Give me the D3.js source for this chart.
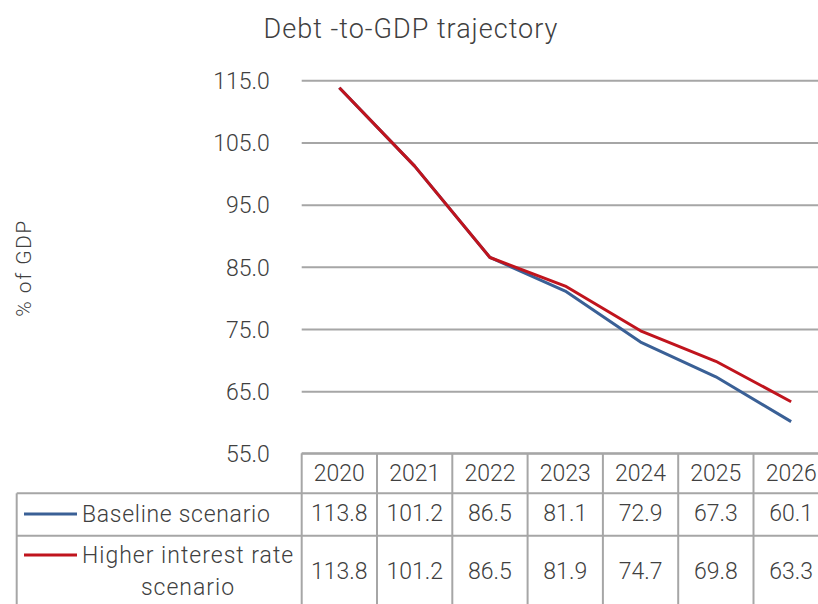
<!DOCTYPE html>
<html>
<head>
<meta charset="utf-8">
<script src="https://cdn.jsdelivr.net/npm/d3@7"></script>
<style>
  html, body { margin: 0; padding: 0; background: #fff; }
  svg { display: block; }
  text { font-family: Roboto, "Noto Sans", sans-serif; font-weight: 300; fill: #404040; }
</style>
</head>
<body>
<svg id="chart" width="818" height="604"></svg>
<script>
const title = "Debt -to-GDP trajectory";
const yLabel = "% of GDP";
const years = ["2020", "2021", "2022", "2023", "2024", "2025", "2026"];
const baseline = [113.8, 101.2, 86.5, 81.1, 72.9, 67.3, 60.1];
const higherRate = [113.8, 101.2, 86.5, 81.9, 74.7, 69.8, 63.3];
const yTicks = [55, 65, 75, 85, 95, 105, 115];
const seriesNames = [["Baseline scenario"], ["Higher interest rate", "scenario"]];
const seriesColors = ["#3a6096", "#c0141d"];

const svg = d3.select("#chart");
const plotLeft = 301.7, colW = 75.3;
const plotRight = plotLeft + colW * years.length;
const yTop = 80.3, yBottom = 453.3;

const x = d3.scaleBand().domain(years).range([plotLeft, plotRight]);
const y = d3.scaleLinear().domain([55, 115]).range([yBottom, yTop]);

// title
svg.append("text").attr("x", 411).attr("y", 38).attr("text-anchor", "middle")
  .style("font-size", "27px").style("letter-spacing", "1px").text(title);

// y label
svg.append("text").attr("transform", "translate(31,268) rotate(-90)")
  .attr("text-anchor", "middle").style("font-size", "21px").style("letter-spacing", "1.5px").text(yLabel);

// y axis + gridlines
const yAxis = d3.axisLeft(y).tickValues(yTicks).tickFormat(d3.format(".1f"))
  .tickSize(-(plotRight - plotLeft)).tickPadding(32);
const gy = svg.append("g").attr("transform", `translate(${plotLeft},0)`).call(yAxis);
gy.select(".domain").remove();
gy.selectAll(".tick line").attr("stroke", "#a6a6a6").attr("stroke-width", 2);
gy.selectAll(".tick text").attr("fill", "#404040").style("font-size", "23px")
  .style("font-family", "Roboto, sans-serif").style("font-weight", 300).attr("dy", "0.36em");

// lines
const line = d3.line().x((d, i) => x(years[i]) + x.bandwidth() / 2).y(d => y(d));
[baseline, higherRate].forEach((s, k) => {
  svg.append("path").datum(s).attr("d", line).attr("fill", "none")
    .attr("stroke", seriesColors[k]).attr("stroke-width", 3).attr("stroke-linejoin", "round");
});

// data table
const border = "#a6a6a6";
const tableLeft = 16.7;
const rowTops = [453.3, 493.3, 535.7, 608];
const g = svg.append("g");
g.append("line").attr("x1", plotLeft).attr("x2", plotRight).attr("y1", rowTops[0]).attr("y2", rowTops[0]);
[1, 2].forEach(r => g.append("line").attr("x1", tableLeft).attr("x2", plotRight).attr("y1", rowTops[r]).attr("y2", rowTops[r]));
years.forEach(yr => g.append("line").attr("x1", x(yr)).attr("x2", x(yr)).attr("y1", rowTops[0]).attr("y2", rowTops[3]));
g.append("line").attr("x1", plotRight).attr("x2", plotRight).attr("y1", rowTops[0]).attr("y2", rowTops[3]);
g.append("line").attr("x1", tableLeft).attr("x2", tableLeft).attr("y1", rowTops[1]).attr("y2", rowTops[3]);
g.selectAll("line").attr("stroke", border).attr("stroke-width", 2);

// header years
svg.selectAll(".yr").data(years).enter().append("text")
  .attr("x", d => x(d) + x.bandwidth() / 2).attr("y", 481).attr("text-anchor", "middle")
  .style("font-size", "23px").text(d => d);

// values
const rowBaselines = [521, 579];
[baseline, higherRate].forEach((s, k) => {
  svg.selectAll(".v" + k).data(s).enter().append("text")
    .attr("x", (d, i) => x(years[i]) + x.bandwidth() / 2).attr("y", rowBaselines[k])
    .attr("text-anchor", "middle").style("font-size", "23px").text(d => d.toFixed(1));
});

// legend keys
const keyY = [514, 555];
seriesColors.forEach((c, k) => {
  svg.append("line").attr("x1", 24).attr("x2", 77).attr("y1", keyY[k]).attr("y2", keyY[k])
    .attr("stroke", c).attr("stroke-width", 3);
});
svg.append("text").attr("x", 82).attr("y", 522).style("font-size", "23px").style("letter-spacing", "0.7px").text(seriesNames[0][0]);
svg.append("text").attr("x", 82).attr("y", 563).style("font-size", "23px").style("letter-spacing", "1px").text(seriesNames[1][0]);
svg.append("text").attr("x", 188).attr("y", 595).attr("text-anchor", "middle").style("font-size", "23px").style("letter-spacing", "1px").text(seriesNames[1][1]);
</script>
</body>
</html>
